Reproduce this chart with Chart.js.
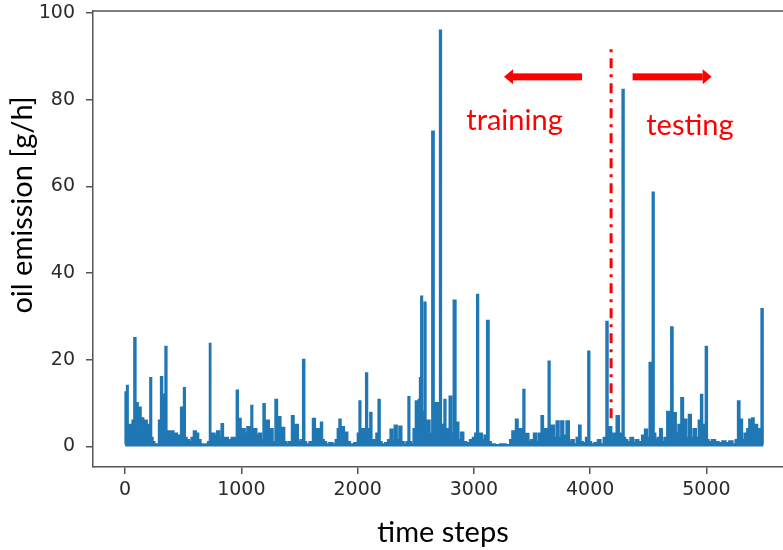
<!DOCTYPE html>
<html>
<head>
<meta charset="utf-8">
<script src="https://cdn.jsdelivr.net/npm/chart.js@4.4.1/dist/chart.umd.min.js"></script>
<style>
  html, body { margin: 0; padding: 0; background: #fff; overflow: hidden; }
  #wrap { width: 783px; height: 550px; overflow: hidden; }
</style>
</head>
<body>
<div id="wrap"><canvas id="grafico" width="810" height="550"></canvas></div>
<script>
// Pasos de tiempo y emisión de aceite [g/h]
const pasos = [
    0, 5, 10, 20, 28, 40, 55, 70, 86, 95, 105, 115, 130, 140, 150, 165, 180, 195, 210, 221,
    230, 245, 260, 280, 300, 315, 325, 340, 352, 362, 375, 390, 410, 425, 440, 455, 470, 490, 500, 510,
    520, 540, 560, 580, 600, 620, 640, 660, 680, 700, 725, 731, 738, 760, 780, 800, 820, 837, 850, 870,
    900, 930, 950, 968, 975, 990, 1000, 1020, 1040, 1060, 1080, 1090, 1100, 1120, 1140, 1160, 1180, 1198, 1206, 1230,
    1245, 1260, 1280, 1304, 1312, 1330, 1345, 1360, 1380, 1400, 1420, 1447, 1455, 1480, 1495, 1520, 1539, 1546, 1570, 1600,
    1628, 1640, 1660, 1675, 1691, 1700, 1720, 1740, 1770, 1800, 1820, 1835, 1849, 1860, 1877, 1890, 1905, 1920, 1950, 1990,
    2010, 2020, 2030, 2050, 2065, 2078, 2088, 2100, 2115, 2125, 2150, 2170, 2187, 2195, 2220, 2250, 2270, 2293, 2305, 2330,
    2345, 2370, 2385, 2410, 2430, 2442, 2450, 2470, 2490, 2508, 2518, 2530, 2540, 2551, 2560, 2570, 2580, 2590, 2610, 2630,
    2651, 2660, 2680, 2700, 2714, 2722, 2740, 2751, 2762, 2780, 2800, 2812, 2838, 2848, 2860, 2875, 2900, 2920, 2950, 2980,
    3000, 3020, 3033, 3042, 3060, 3080, 3100, 3124, 3132, 3160, 3200, 3250, 3300, 3320, 3339, 3350, 3370, 3385, 3400, 3418,
    3431, 3440, 3460, 3480, 3500, 3530, 3550, 3570, 3591, 3600, 3620, 3635, 3648, 3656, 3680, 3700, 3720, 3740, 3760, 3780,
    3811, 3825, 3850, 3870, 3895, 3912, 3925, 3950, 3975, 3990, 3998, 4020, 4050, 4080, 4100, 4130, 4147, 4155, 4175, 4190,
    4210, 4242, 4255, 4270, 4285, 4293, 4310, 4330, 4360, 4380, 4400, 4430, 4460, 4480, 4500, 4520, 4530, 4543, 4552, 4570,
    4590, 4610, 4625, 4650, 4673, 4685, 4706, 4714, 4730, 4745, 4770, 4795, 4805, 4820, 4835, 4860, 4875, 4900, 4920, 4945,
    4959, 4970, 4985, 5001, 5010, 5030, 5060, 5090, 5120, 5150, 5180, 5210, 5240, 5260, 5280, 5290, 5300, 5315, 5340, 5360,
    5374, 5385, 5400, 5415, 5430, 5445, 5465, 5480, 5490
];
const emision = [
    0.5, 12.5, 1, 14, 3, 5, 2, 6, 25, 4, 10, 3, 9, 2, 6.5, 3, 6, 2, 5, 15.8,
    2, 1, 0.3, 0.5, 6, 16, 4, 12, 23, 3, 3.5, 2, 3.5, 1.5, 3, 1, 2.5, 9, 3, 13.5,
    2, 1.5, 1, 2, 3.5, 3, 1.5, 0.5, 0.3, 0.5, 1, 23.7, 2, 3, 2.5, 3.5, 2, 5.2, 1.5, 2,
    1.5, 2, 1.8, 12.9, 3, 6.4, 2, 4, 3, 4.5, 2, 9.4, 3, 4, 2.5, 3, 1.5, 9.8, 3, 6,
    2, 4, 1, 10.8, 3, 6.8, 2, 4.3, 1, 0.5, 1, 7, 2, 5, 1, 1.5, 20, 1, 0.5, 1,
    6.4, 2, 4, 1.5, 5.5, 1.5, 1, 0.5, 0.8, 0.5, 1.5, 4, 6.2, 2, 4.5, 1.5, 3.2, 1, 0.5, 0.8,
    3, 10.4, 2, 4, 1, 16.9, 2, 4, 7.8, 1, 1.5, 3, 10.8, 1, 0.5, 0.8, 1.5, 3.9, 1, 4.8,
    1.5, 4.6, 1, 0.5, 1, 11.4, 1, 0.5, 4, 10.4, 3, 10.8, 15.8, 34.6, 5, 8, 33.2, 4, 6, 3,
    72.7, 4, 10, 3, 96, 5, 3, 10.8, 2, 4, 11.5, 3, 33.7, 2, 5.5, 1.5, 3.2, 1, 0.8, 1.5,
    2, 3, 35, 2, 3, 1.5, 2.5, 29, 1, 0.5, 0.3, 0.5, 0.3, 1.5, 3.5, 1.5, 6.2, 2, 4, 2,
    13.1, 1, 2.9, 1, 1.5, 3, 1, 3, 7, 2, 4, 2, 19.6, 2, 4.8, 2, 5.8, 2, 5.8, 2.5,
    5.8, 1, 1.5, 0.5, 2, 4.8, 1, 0.8, 2, 21.9, 1, 0.5, 0.8, 1.5, 0.5, 2, 28.8, 2, 4.5, 1,
    3, 7, 2, 3, 82.3, 2, 1.5, 1, 2, 0.8, 1.5, 1, 2.5, 3.9, 2, 19.3, 6, 58.6, 3, 1.5,
    2, 4, 1, 2, 8, 3, 27.5, 4, 7.7, 3, 5, 11.2, 3, 6.2, 2, 7.3, 2, 4, 2, 6,
    11.9, 2, 5, 23, 1.5, 1, 1.5, 1, 0.8, 1.2, 0.8, 1.2, 0.5, 1.5, 10.4, 3, 6.2, 1.5, 3, 4,
    6.2, 2, 6.5, 3, 5, 2, 4, 31.7, 0.5
];

const xTicks = [0, 1000, 2000, 3000, 4000, 5000];
const yTicks = [0, 20, 40, 60, 80, 100];

// Separación entrenamiento / prueba
const corte = 4180;
const corteRango = [6.5, 92.6];

// Flechas y textos en rojo
const flechaDesde = [3930, 4365];
const flechaHasta = [3259, 5045];
const flechaNivel = 85.3;
const etiquetas = ['training', 'testing'];
const etiquetasX = [3349, 4858];
const etiquetasY = [73.1, 71.9];

const colorLinea = '#1f77b4';
const colorEje = '#555';
const fuenteTicks = { family: 'DejaVu Sans', size: 19 };

// Dibujar borde superior, flechas, textos y títulos de ejes
const anotaciones = {
    id: 'anotaciones',
    afterDraw(chart) {
        const { ctx, chartArea, scales: { x, y } } = chart;
        ctx.save();

        ctx.strokeStyle = colorEje;
        ctx.lineWidth = 1.5;
        ctx.beginPath();
        ctx.moveTo(chartArea.left, chartArea.top);
        ctx.lineTo(chartArea.right, chartArea.top);
        ctx.stroke();

        ctx.fillStyle = '#ff0000';
        const yy = y.getPixelForValue(flechaNivel);
        flechaDesde.forEach((desde, i) => {
            const x0 = x.getPixelForValue(desde);
            const x1 = x.getPixelForValue(flechaHasta[i]);
            const dir = Math.sign(x1 - x0);
            const base = x1 - dir * 9;
            ctx.fillRect(Math.min(x0, base), yy - 3.5, Math.abs(base - x0), 7);
            ctx.beginPath();
            ctx.moveTo(x1, yy);
            ctx.lineTo(base, yy - 7.5);
            ctx.lineTo(base, yy + 7.5);
            ctx.closePath();
            ctx.fill();
        });

        ctx.font = '29px Lato';
        ctx.textAlign = 'center';
        ctx.textBaseline = 'alphabetic';
        etiquetas.forEach((t, i) => {
            ctx.fillText(t, x.getPixelForValue(etiquetasX[i]), y.getPixelForValue(etiquetasY[i]));
        });

        ctx.fillStyle = '#000';
        ctx.fillText('time steps', 443, 542);

        ctx.translate(32, 205);
        ctx.rotate(-Math.PI / 2);
        ctx.fillText('oil emission [g/h]', 0, 0);
        ctx.restore();
    }
};

const ctx = document.getElementById('grafico').getContext('2d');
new Chart(ctx, {
    type: 'line',
    data: {
        datasets: [
            {
                data: pasos.map((p, i) => ({ x: p, y: emision[i] })),
                borderColor: colorLinea,
                backgroundColor: colorLinea,
                borderWidth: 2,
                fill: 'origin',
                stepped: 'middle',
                pointRadius: 0,
            },
            {
                data: corteRango.map(v => ({ x: corte, y: v })),
                borderColor: '#ff0000',
                borderWidth: 3,
                borderDash: [10, 6, 3, 6],
                pointRadius: 0,
                fill: false,
            }
        ]
    },
    options: {
        responsive: false,
        animation: false,
        layout: { padding: { top: 11, right: 11, left: 0, bottom: 0 } },
        plugins: { legend: { display: false }, tooltip: { enabled: false } },
        scales: {
            x: {
                type: 'linear',
                min: -276,
                max: 5796,
                afterBuildTicks: s => { s.ticks = xTicks.map(v => ({ value: v })); },
                afterFit: s => { s.height = 83; },
                ticks: {
                    font: fuenteTicks, color: '#2b2b2b', padding: 5,
                    maxRotation: 0, autoSkip: false, callback: v => String(v)
                },
                grid: { drawOnChartArea: false, tickLength: 7, color: colorEje, lineWidth: 1.5 },
                border: { color: colorEje, width: 1.5 },
            },
            y: {
                min: -4.75,
                max: 100.5,
                afterBuildTicks: s => { s.ticks = yTicks.map(v => ({ value: v })); },
                // ancho fijo y sin relleno extra por las etiquetas
                afterFit: s => { s.width = 93; s.paddingTop = 0; s.paddingBottom = 0; },
                ticks: { font: fuenteTicks, color: '#2b2b2b', padding: 11, autoSkip: false, callback: v => String(v) },
                grid: { drawOnChartArea: false, tickLength: 7, color: colorEje, lineWidth: 1.5 },
                border: { color: colorEje, width: 1.5 },
            }
        }
    },
    plugins: [anotaciones]
});
</script>
</body>
</html>
